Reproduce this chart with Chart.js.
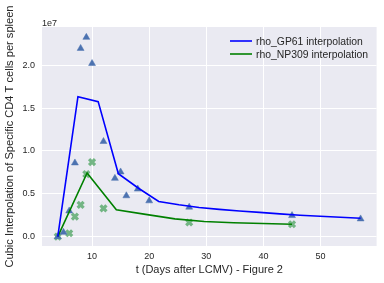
<!DOCTYPE html>
<html>
<head>
<meta charset="utf-8">
<script src="https://cdn.jsdelivr.net/npm/chart.js@4.4.1/dist/chart.umd.min.js"></script>
<style>
  html, body { margin: 0; padding: 0; background: #ffffff; }
  #wrap { width: 384px; height: 283px; }
</style>
</head>
<body>
<div id="wrap"><canvas id="c" width="384" height="283"></canvas></div>
<script>
// ---- data ----
const gp61Days   = [4, 5, 6, 7, 8, 9, 10, 12, 14, 15, 16, 18, 20, 27, 45, 57];
const gp61Values = [0, 0.05e7, 0.30e7, 0.86e7, 2.196e7, 2.325e7, 2.02e7, 1.11e7, 0.68e7, 0.755e7, 0.477e7, 0.555e7, 0.418e7, 0.344e7, 0.246e7, 0.207e7];

const np309Days   = [4, 6, 7, 8, 9, 10, 12, 27, 45];
const np309Values = [0, 0.04e7, 0.234e7, 0.37e7, 0.73e7, 0.87e7, 0.33e7, 0.165e7, 0.145e7];

const gp61InterpDays   = [4, 7.53, 11.07, 14.6, 18.13, 21.67, 25.2, 28.73, 32.27, 35.8, 39.33, 42.87, 46.4, 49.93, 53.47, 57];
const gp61InterpValues = [0, 1.633e7, 1.575e7, 0.735e7, 0.565e7, 0.41e7, 0.372e7, 0.34e7, 0.318e7, 0.299e7, 0.283e7, 0.266e7, 0.25e7, 0.238e7, 0.226e7, 0.215e7];

const np309InterpDays   = [4, 9.13, 14.25, 19.38, 24.5, 29.63, 34.75, 39.88, 45];
const np309InterpValues = [0, 0.743e7, 0.313e7, 0.26e7, 0.207e7, 0.176e7, 0.163e7, 0.153e7, 0.145e7];

const xTickValues = [10, 20, 30, 40, 50];
const yTickValues = [0, 0.5e7, 1.0e7, 1.5e7, 2.0e7];
const yExponentLabel = '1e7';

const legendLabels = ['rho_GP61 interpolation', 'rho_NP309 interpolation'];
const xTitle = 't (Days after LCMV) - Figure 2';
const yTitle = 'Cubic Interpolation of Specific CD4 T cells per spleen';

// ---- helpers ----
const pts = (xs, ys) => xs.map((x, i) => ({ x: x, y: ys[i] }));
const FONT = "'Liberation Sans', Arial, sans-serif";
const TEXT = '#262626';
const lineColors = ['#0000FF', '#008000'];

const bgPlugin = {
  id: 'bg',
  beforeDraw(chart) {
    const { ctx, chartArea: a } = chart;
    ctx.save();
    ctx.fillStyle = '#EAEAF2';
    ctx.fillRect(a.left, a.top, a.right - a.left, a.bottom - a.top);
    ctx.restore();
  }
};

const extrasPlugin = {
  id: 'extras',
  afterDraw(chart) {
    const { ctx, chartArea: a } = chart;
    ctx.save();
    // offset label for y axis
    ctx.fillStyle = TEXT;
    ctx.font = "9px " + FONT;
    ctx.textAlign = 'left';
    ctx.textBaseline = 'alphabetic';
    ctx.fillText(yExponentLabel, a.left, a.top - 1);
    // legend
    ctx.font = "10.4px " + FONT;
    legendLabels.forEach((lbl, i) => {
      const y = 41 + i * 13;
      ctx.strokeStyle = lineColors[i];
      ctx.lineWidth = 1.6;
      ctx.beginPath();
      ctx.moveTo(230, y);
      ctx.lineTo(252, y);
      ctx.stroke();
      ctx.fillStyle = TEXT;
      ctx.fillText(lbl, 256, y + 3.7);
    });
    ctx.restore();
  }
};

new Chart(document.getElementById('c'), {
  type: 'scatter',
  data: {
    datasets: [
      {
        label: legendLabels[0],
        data: pts(gp61InterpDays, gp61InterpValues),
        showLine: true,
        borderColor: lineColors[0],
        borderWidth: 1.6,
        pointRadius: 0,
        tension: 0,
        order: 0
      },
      {
        label: legendLabels[1],
        data: pts(np309InterpDays, np309InterpValues),
        showLine: true,
        borderColor: lineColors[1],
        borderWidth: 1.6,
        pointRadius: 0,
        tension: 0,
        order: 0
      },
      {
        label: 'rho_GP61',
        data: pts(gp61Days, gp61Values),
        pointStyle: 'triangle',
        pointRadius: 4,
        backgroundColor: '#4C72B0',
        borderColor: '#4C72B0',
        borderWidth: 0.5,
        order: 1
      },
      {
        label: 'rho_NP309',
        data: pts(np309Days, np309Values),
        pointStyle: 'crossRot',
        pointRadius: 4.2,
        backgroundColor: 'rgba(85,168,104,0.8)',
        borderColor: 'rgba(85,168,104,0.8)',
        borderWidth: 3.2,
        order: 1
      }
    ]
  },
  options: {
    responsive: false,
    animation: false,
    devicePixelRatio: 1,
    layout: { padding: { top: 27, right: 6, left: 0, bottom: 0 } },
    plugins: {
      legend: { display: false },
      tooltip: { enabled: false }
    },
    scales: {
      x: {
        type: 'linear',
        min: 1.24,
        max: 59.8,
        afterFit(s) { s.height = 37; },
        afterBuildTicks(s) { s.ticks = xTickValues.map(v => ({ value: v })); },
        grid: { color: '#FFFFFF', lineWidth: 1, drawTicks: false },
        border: { display: false },
        ticks: {
          padding: 5,
          color: TEXT,
          font: { family: FONT, size: 9 },
          maxRotation: 0,
          callback: v => String(v)
        },
        title: {
          display: true,
          text: xTitle,
          color: TEXT,
          font: { family: FONT, size: 11 },
          padding: { top: 0, bottom: 6 }
        }
      },
      y: {
        type: 'linear',
        min: -0.109e7,
        max: 2.446e7,
        afterFit(s) { s.width = 42; },
        afterBuildTicks(s) { s.ticks = yTickValues.map(v => ({ value: v })); },
        grid: { color: '#FFFFFF', lineWidth: 1, drawTicks: false },
        border: { display: false },
        ticks: {
          padding: 7,
          color: TEXT,
          font: { family: FONT, size: 9 },
          callback: v => (v / 1e7).toFixed(1)
        },
        title: {
          display: true,
          text: yTitle,
          color: TEXT,
          font: { family: FONT, size: 11.1 },
          padding: { top: 3.4, bottom: 0 }
        }
      }
    }
  },
  plugins: [bgPlugin, extrasPlugin]
});
</script>
</body>
</html>
